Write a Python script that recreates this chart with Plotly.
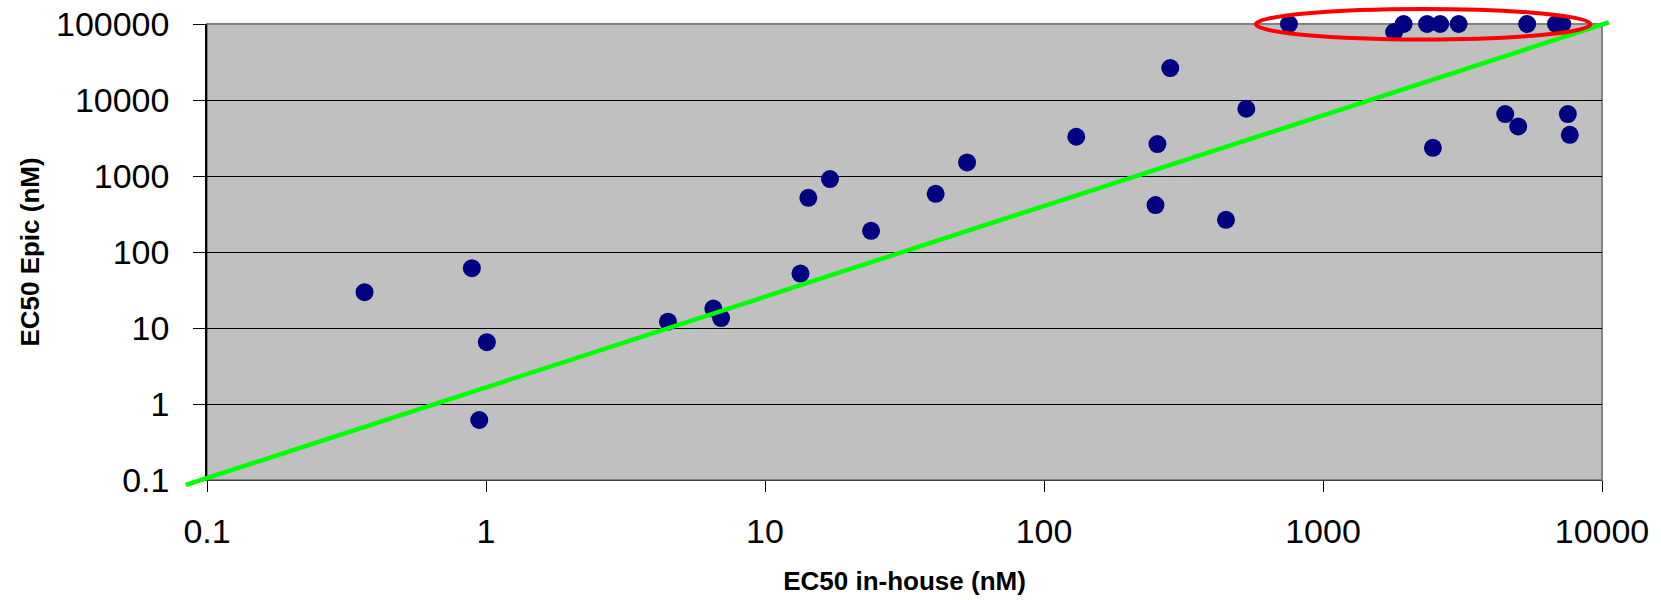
import math
import plotly.graph_objects as go

# ---- data ----
ec50_inhouse = [0.367, 0.89, 1.007, 0.946, 4.49, 6.53, 6.96, 13.4, 14.3, 17.1,
                24, 40.9, 53, 130.5, 255, 251, 283.5, 531, 449, 2477,
                4500, 5007, 7544, 7666, 755, 1799, 1945, 2360, 2630, 3063,
                5392, 6840, 7200]
ec50_epic = [29.6, 61.3, 6.5, 0.616, 12.1, 18, 13.5, 52, 516, 910,
             190, 583, 1507, 3283, 2630, 414, 26350, 7670, 265, 2352,
             6530, 4485, 6530, 3487, 100000, 78500, 100000, 100000, 100000, 100000,
             100000, 100000, 100000]

line_x = [0.084, 10570]
line_y = [0.086, 105000]

ellipse_x = [575, 9100]
ellipse_y = [62700, 157600]

x_ticks = [0.1, 1, 10, 100, 1000, 10000]
x_tick_text = ["0.1", "1", "10", "100", "1000", "10000"]
y_ticks = [0.1, 1, 10, 100, 1000, 10000, 100000]
y_tick_text = ["0.1", "1", "10", "100", "1000", "10000", "100000"]

X_RANGE = [-1, 4]
Y_RANGE = [-1, 5]


def dom(v, rng):
    return (math.log10(v) - rng[0]) / (rng[1] - rng[0])


FONT = "Arial, Liberation Sans, sans-serif"

fig = go.Figure()
fig.add_trace(go.Scatter(
    x=ec50_inhouse, y=ec50_epic, mode="markers",
    marker=dict(size=18, color="#000080", line=dict(width=0)),
    cliponaxis=False, showlegend=False, hoverinfo="x+y"))

shapes = [
    # plot area border (gray)
    dict(type="rect", xref="paper", yref="paper", x0=0, x1=1, y0=0, y1=1,
         line=dict(color="#808080", width=2), layer="below"),
    # green reference line
    dict(type="line", xref="x domain", yref="y domain",
         x0=dom(line_x[0], X_RANGE), x1=dom(line_x[1], X_RANGE),
         y0=dom(line_y[0], Y_RANGE), y1=dom(line_y[1], Y_RANGE),
         line=dict(color="#00FF00", width=4.5), layer="above"),
    # red ellipse
    dict(type="circle", xref="x domain", yref="y domain",
         x0=dom(ellipse_x[0], X_RANGE), x1=dom(ellipse_x[1], X_RANGE),
         y0=dom(ellipse_y[0], Y_RANGE), y1=dom(ellipse_y[1], Y_RANGE),
         line=dict(color="#FF0000", width=4), layer="above"),
]

fig.update_layout(
    width=1661, height=600,
    margin=dict(l=207, r=59, t=24, b=120, pad=0, autoexpand=False),
    paper_bgcolor="white", plot_bgcolor="#C0C0C0",
    font=dict(family=FONT, color="black"),
    shapes=shapes,
    showlegend=False,
)
fig.update_xaxes(
    type="log", range=X_RANGE, automargin=False,
    tickvals=x_ticks, ticktext=x_tick_text,
    tickfont=dict(size=34, family=FONT),
    ticks="outside", ticklen=11, tickwidth=1, tickcolor="black",
    showgrid=False, zeroline=False,
    showline=True, linecolor="#404040", linewidth=1,
    ticklabelstandoff=10, ticklabeloverflow="allow",
    title=dict(text="<b>EC50 in-house (nM)</b>", font=dict(size=26, family=FONT),
               standoff=23),
)
fig.update_yaxes(
    type="log", range=Y_RANGE, automargin=False,
    tickvals=y_ticks, ticktext=y_tick_text,
    tickfont=dict(size=34, family=FONT),
    ticks="outside", ticklen=12, tickwidth=1, tickcolor="black",
    showgrid=True, gridcolor="black", gridwidth=1,
    zeroline=False,
    showline=True, linecolor="black", linewidth=1.5,
    ticklabelstandoff=17, ticklabeloverflow="allow",
    title=dict(text="<b>EC50 Epic (nM)</b>", font=dict(size=26, family=FONT),
               standoff=9),
)

fig.write_html("out.html",
               config={"displayModeBar": False},
               post_script="document.body.style.margin='0';document.body.style.overflow='hidden';")
